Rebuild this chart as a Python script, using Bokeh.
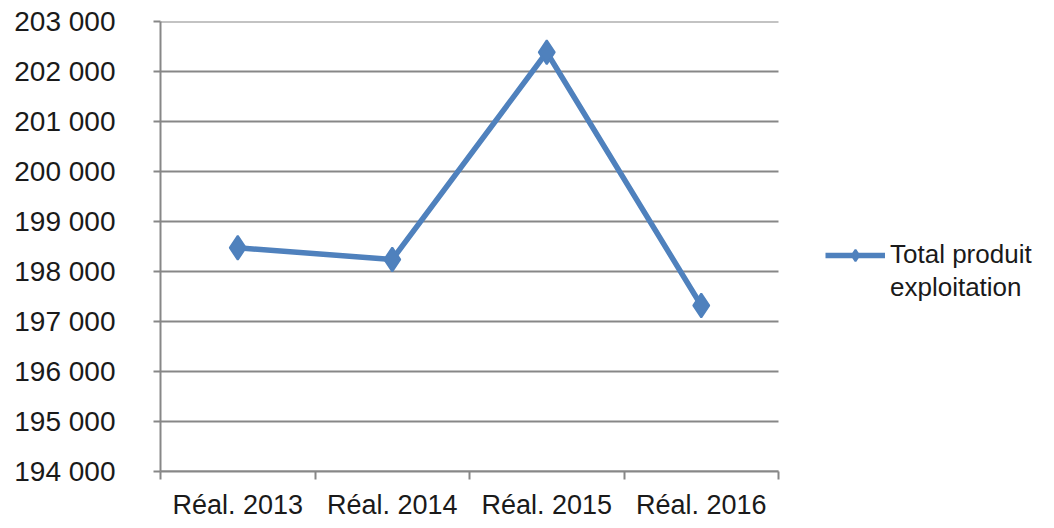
from bokeh.plotting import figure
from bokeh.models import Range1d, FixedTicker, Legend, LegendItem
from bokeh.embed import file_html
from bokeh.resources import INLINE

categories = ["Réal. 2013", "Réal. 2014", "Réal. 2015", "Réal. 2016"]
values = [198475, 198240, 202385, 197320]
series_name = ["Total produit", "exploitation"]
y_ticks = list(range(194000, 203001, 1000))

FONT = "Liberation Sans"
FS = "27px"
BLUE = "#4F81BD"
GRAY = "#878787"

n = len(categories)
xs = [i + 0.5 for i in range(n)]
PLOT_W = 618          # pixel width of the category area
FRAME_W = 878         # frame includes room for the legend on the right
x_end = n * FRAME_W / PLOT_W

p = figure(frame_width=FRAME_W, frame_height=450, output_backend="svg", toolbar_location=None,
           x_range=Range1d(0, x_end), y_range=Range1d(y_ticks[0], y_ticks[-1]),
           min_border_left=160, min_border_right=0, min_border_top=21, min_border_bottom=41)
p.outline_line_color = None
p.background_fill_color = "white"
p.border_fill_color = "white"
p.xgrid.visible = False
p.ygrid.visible = False

# horizontal gridlines over the category area only
p.segment(x0=[0] * len(y_ticks), x1=[n] * len(y_ticks), y0=y_ticks, y1=y_ticks,
          line_color=GRAY, line_width=2)

# y axis
p.yaxis.ticker = FixedTicker(ticks=y_ticks)
p.yaxis.major_label_overrides = {t: f"{t:,}".replace(",", "\u00a0") for t in y_ticks}
p.yaxis.axis_line_color = GRAY
p.yaxis.axis_line_width = 2
p.yaxis.major_tick_line_color = GRAY
p.yaxis.major_tick_line_width = 2
p.yaxis.major_tick_out = 7
p.yaxis.major_tick_in = 0
p.yaxis.minor_tick_line_color = None
p.yaxis.major_label_standoff = 38
p.yaxis.major_label_text_font = FONT
p.yaxis.major_label_text_font_size = "28px"
p.yaxis.major_label_text_color = "#1a1a1a"

# x axis
p.xaxis.bounds = (0, n)
p.xaxis.ticker = FixedTicker(ticks=xs, minor_ticks=list(range(n + 1)))
p.xaxis.major_label_overrides = {x: c for x, c in zip(xs, categories)}
p.xaxis.axis_line_color = GRAY
p.xaxis.axis_line_width = 2
p.xaxis.major_tick_line_color = None
p.xaxis.major_tick_out = 0
p.xaxis.major_tick_in = 0
p.xaxis.minor_tick_line_color = GRAY
p.xaxis.minor_tick_line_width = 2
p.xaxis.minor_tick_out = 8
p.xaxis.minor_tick_in = 0
p.xaxis.major_label_standoff = 10
p.xaxis.major_label_text_font = FONT
p.xaxis.major_label_text_font_size = FS
p.xaxis.major_label_text_color = "#1a1a1a"

ln = p.line(xs, values, line_color=BLUE, line_width=5.5)
mk = p.scatter(xs, values, marker="diamond", size=24, fill_color=BLUE, line_color=BLUE, line_width=2)

legend = Legend(items=[LegendItem(label=series_name[0], renderers=[ln, mk]),
                       LegendItem(label=series_name[1], renderers=[])],
                location=(665, 168), border_line_color=None, background_fill_alpha=0,
                label_text_font=FONT, label_text_font_size="26px", label_text_color="#1a1a1a",
                glyph_width=60, glyph_height=28, padding=0, margin=0, spacing=2,
                label_standoff=5)
p.add_layout(legend)

open("out.html", "w").write(file_html(p, INLINE))
